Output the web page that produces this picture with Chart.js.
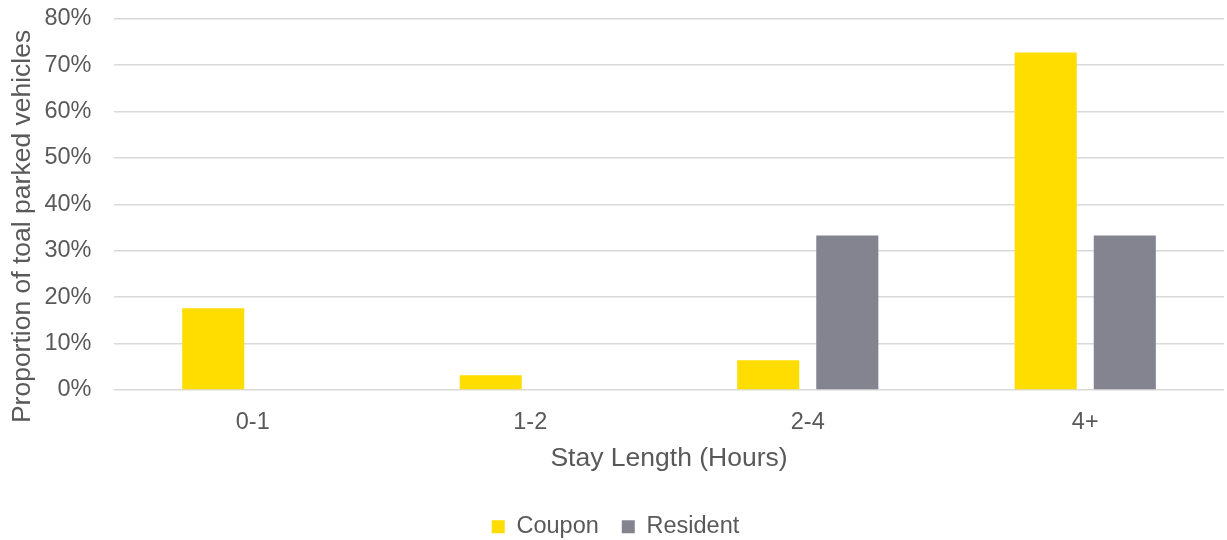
<!DOCTYPE html>
<html lang="en">
    <head>
        <meta charset="UTF-8" />
        <title>Stay Length</title>
        <script src="https://cdn.jsdelivr.net/npm/chart.js"></script>
        <style>
            html, body { margin: 0; padding: 0; background: #fff; }
            #wrap { width: 1227px; height: 540px; }
        </style>
    </head>
    <body>
        <div id="wrap"><canvas id="stayChart"></canvas></div>
        <script>
            const stayLengths = ['0-1', '1-2', '2-4', '4+'];
            const couponShare = [17.6, 3.2, 6.4, 72.7];
            const residentShare = [0, 0, 33.3, 33.3];
            const yTicks = [0, 10, 20, 30, 40, 50, 60, 70, 80];

            const textColor = '#595959';
            const family = '"Liberation Sans", Arial, sans-serif';
            const tickFont = { family: family, size: 23.5 };
            const titleFont = { family: family, size: 26.5 };

            new Chart(document.getElementById('stayChart'), {
                type: 'bar',
                data: {
                    labels: stayLengths,
                    datasets: [
                        { label: 'Coupon', data: couponShare, backgroundColor: '#FFDD00' },
                        { label: 'Resident', data: residentShare, backgroundColor: '#83848F' },
                    ],
                },
                options: {
                    responsive: true,
                    maintainAspectRatio: false,
                    animation: false,
                    devicePixelRatio: 1,
                    categoryPercentage: 0.57,
                    barPercentage: 0.785,
                    layout: { padding: { left: 7, right: 3, top: 0, bottom: -8.5 } },
                    scales: {
                        x: {
                            grid: { display: false },
                            border: { display: false },
                            ticks: { color: textColor, font: tickFont, padding: 10 },
                            title: {
                                display: true,
                                text: 'Stay Length (Hours)',
                                color: textColor,
                                font: titleFont,
                                padding: { top: -3, bottom: 17 },
                            },
                        },
                        y: {
                            min: 0,
                            max: 80,
                            afterBuildTicks: (axis) => {
                                axis.ticks = yTicks.map((v) => ({ value: v }));
                            },
                            // invisible tick marks push the labels away from the plot
                            grid: {
                                color: '#D9D9D9',
                                lineWidth: 1.5,
                                drawTicks: true,
                                tickLength: 18,
                                tickColor: 'rgba(0,0,0,0)',
                            },
                            border: { display: false },
                            ticks: {
                                color: textColor,
                                font: tickFont,
                                padding: 4.6,
                                callback: (v) => v + '%',
                            },
                            title: {
                                display: true,
                                // trailing spaces nudge the label down like the original
                                text: 'Proportion of toal parked vehicles      ',
                                color: textColor,
                                font: titleFont,
                                padding: { top: 0, bottom: 1 },
                            },
                        },
                    },
                    plugins: {
                        legend: {
                            position: 'bottom',
                            labels: {
                                color: textColor,
                                font: tickFont,
                                boxWidth: 13,
                                boxHeight: 13,
                                padding: 23,
                            },
                        },
                        tooltip: { enabled: false },
                    },
                },
            });
        </script>
    </body>
</html>
